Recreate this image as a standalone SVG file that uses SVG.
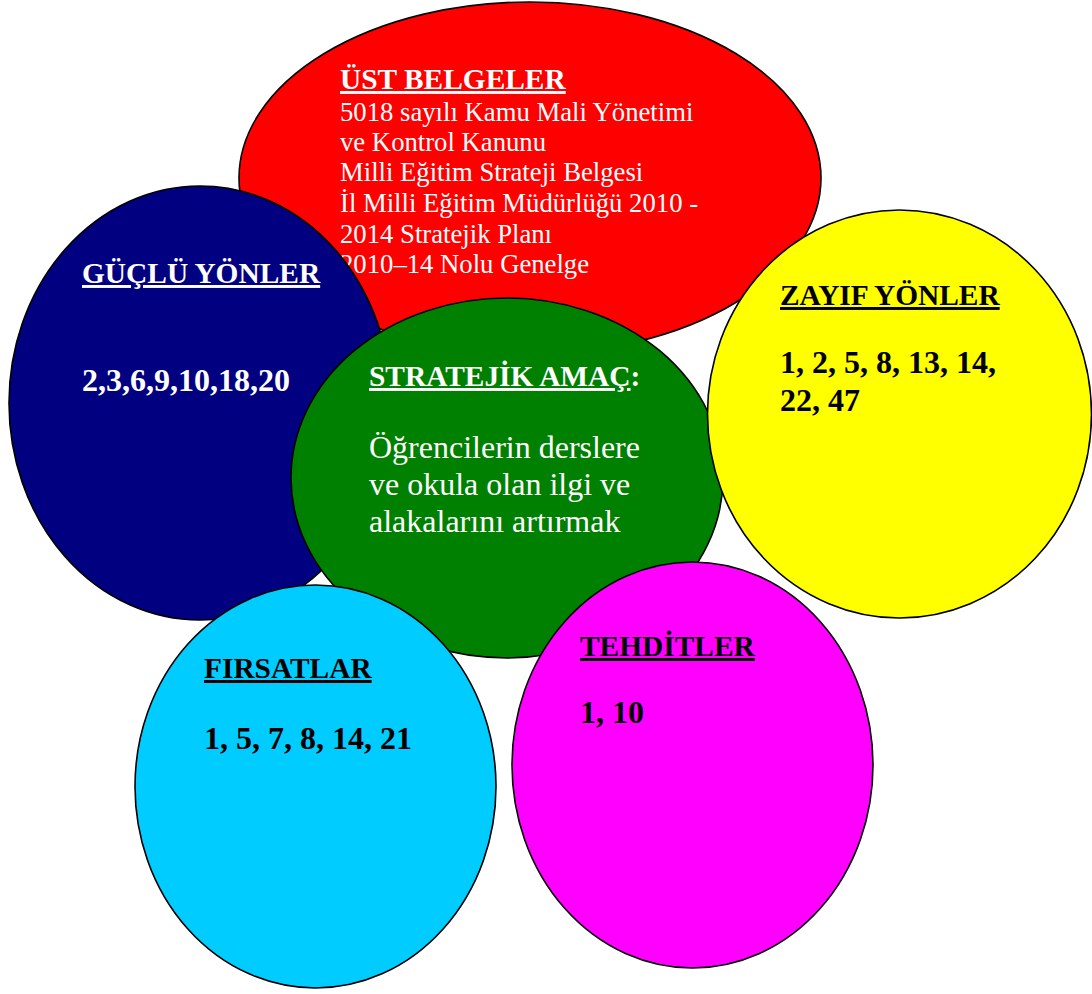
<svg xmlns="http://www.w3.org/2000/svg" width="1092" height="994" viewBox="0 0 1092 994">
<style>
.sh{stroke:#000;stroke-width:1.6}
text{font-family:"Liberation Serif","Times New Roman",serif}
.t{font-weight:bold;font-size:29.4px;text-decoration:underline}
.n{font-weight:bold;font-size:32px}
.w{fill:#fff}
.k{fill:#000}
.rb{font-size:26.7px}
.gb{font-size:32px}
</style>
<rect width="1092" height="994" fill="#fff"/>
<g id="ust-belgeler">
<ellipse class="sh" cx="530" cy="178" rx="291" ry="176" fill="#FF0000"/>
<text class="t w" x="340" y="89">ÜST BELGELER</text>
<text class="rb w" x="340" y="121">5018 sayılı Kamu Mali Yönetimi</text>
<text class="rb w" x="340" y="151">ve Kontrol Kanunu</text>
<text class="rb w" x="340" y="181">Milli Eğitim Strateji Belgesi</text>
<text class="rb w" x="340" y="212">İl Milli Eğitim Müdürlüğü 2010 -</text>
<text class="rb w" x="340" y="243">2014 Stratejik Planı</text>
<text class="rb w" x="340" y="273">2010–14 Nolu Genelge</text>
</g>
<g id="guclu-yonler">
<ellipse class="sh" cx="200" cy="403" rx="191" ry="217" fill="#000080"/>
<text class="t w" x="82" y="283">GÜÇLÜ YÖNLER</text>
<text class="n w" x="82" y="391">2,3,6,9,10,18,20</text>
</g>
<g id="stratejik-amac">
<ellipse class="sh" cx="507" cy="478" rx="216" ry="180" fill="#008000"/>
<text class="w" x="369" y="386" font-weight="bold" font-size="29.4"><tspan text-decoration="underline">STRATEJİK AMAÇ</tspan>:</text>
<text class="gb w" x="369" y="458">Öğrencilerin derslere</text>
<text class="gb w" x="369" y="495">ve okula olan ilgi ve</text>
<text class="gb w" x="369" y="532">alakalarını artırmak</text>
</g>
<g id="zayif-yonler">
<ellipse class="sh" cx="899.5" cy="414" rx="192" ry="204" fill="#FFFF00"/>
<text class="t k" x="780" y="305">ZAYIF YÖNLER</text>
<text class="n k" x="780" y="373">1, 2, 5, 8, 13, 14,</text>
<text class="n k" x="780" y="411">22, 47</text>
</g>
<g id="firsatlar">
<ellipse class="sh" cx="315.5" cy="786.5" rx="180.5" ry="201.5" fill="#00CCFF"/>
<text class="t k" x="204" y="678">FIRSATLAR</text>
<text class="n k" x="204" y="749">1, 5, 7, 8, 14, 21</text>
</g>
<g id="tehditler">
<ellipse class="sh" cx="692.5" cy="765" rx="180.5" ry="203" fill="#FF00FF"/>
<text class="t k" x="580" y="656">TEHDİTLER</text>
<text class="n k" x="580" y="723">1, 10</text>
</g>
<g id="connectors"/>
</svg>
